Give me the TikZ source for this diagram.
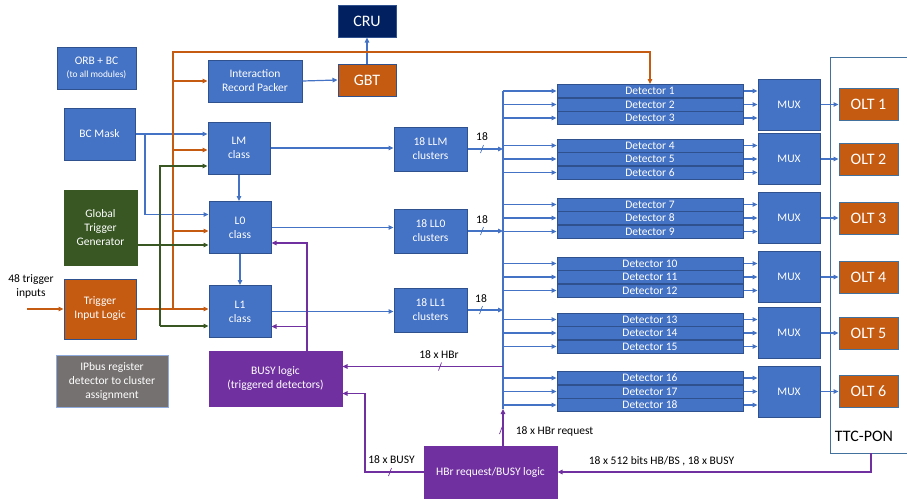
\documentclass[tikz,border=0pt]{standalone}
\usepackage{fontspec}
\setmainfont{Carlito}
\usetikzlibrary{arrows.meta}

\definecolor{boxblue}{HTML}{4472C4}
\definecolor{edgeblue}{HTML}{2F528F}
\definecolor{lightedge}{HTML}{8FAADC}
\definecolor{orng}{HTML}{C55A11}
\definecolor{grn}{HTML}{385723}
\definecolor{purp}{HTML}{7030A0}
\definecolor{gry}{HTML}{767171}
\definecolor{navy}{HTML}{002060}
\definecolor{ttcedge}{HTML}{41719C}

\tikzset{
  slashmark/.pic={\draw[line width=0.7pt] (-1.5,4) -- (1.5,-4);}
}

\begin{document}
\begin{tikzpicture}[x=1pt,y=-1pt,
    txt/.style={font=\fontsize{11.5}{14}\selectfont},
    bigtxt/.style={font=\fontsize{16}{18}\selectfont},
    blk/.style={rectangle, draw=edgeblue, line width=1pt, fill=boxblue, text=white, align=center, inner sep=0pt, txt},
    cls/.style={blk, minimum width=62, minimum height=52},
    clu/.style={blk, minimum width=73, minimum height=44},
    det/.style={blk, minimum width=186, minimum height=13},
    mux/.style={blk, minimum width=62, minimum height=51},
    olt/.style={blk, fill=orng, draw=ttcedge, minimum width=59, minimum height=32, bigtxt},
    lbl/.style={align=center, inner sep=0pt, txt},
    bline/.style={draw=boxblue, line width=1.2pt},
    barr/.style={bline, -{Triangle[length=5pt,width=4.5pt]}},
    oarr/.style={draw=orng, line width=1.2pt, -{Triangle[length=5pt,width=4.5pt]}},
    garr/.style={draw=grn, line width=1.4pt, -{Triangle[length=5pt,width=4.5pt]}},
    parr/.style={draw=purp, line width=1.2pt, -{Triangle[length=5pt,width=4.5pt]}},
  ]
  \useasboundingbox (0,0) rectangle (907,499);

  % Draw boxes
  \node[blk, fill=navy, minimum width=58, minimum height=32, bigtxt] (CRU) at (367,21) {CRU};
  \node[blk, minimum width=79, minimum height=42] (ORB) at (96.5,68) {ORB + BC\\[-1pt]{\fontsize{9.4}{11}\selectfont (to all modules)}};
  \node[blk, minimum width=94, minimum height=42] (IRP) at (255,81) {Interaction\\Record Packer};
  \node[blk, fill=orng, minimum width=58, minimum height=32, bigtxt] (GBT) at (367,80) {GBT};
  \node[blk, minimum width=71, minimum height=52] (BCM) at (99.5,134) {BC Mask};
  \node[cls] (LM) at (239,148) {LM\\class};
  \node[cls] (L0) at (240,227.5) {L0\\class};
  \node[cls] (L1) at (240,311.5) {L1\\class};
  \node[blk, fill=grn, draw=grn, minimum width=73, minimum height=75] (GTG) at (100.5,227.5) {Global\\Trigger\\Generator};
  \node[blk, fill=orng, minimum width=72, minimum height=60] (TIL) at (100,309) {Trigger\\Input Logic};
  \node[blk, fill=gry, draw=lightedge, minimum width=112, minimum height=52] (IPB) at (112,381) {IPbus register\\detector to cluster\\assignment};
  \node[blk, fill=purp, draw=purp, minimum width=133, minimum height=55] (BUSY) at (275.5,378.5) {BUSY logic\\(triggered detectors)};
  \node[blk, fill=purp, draw=purp, minimum width=133, minimum height=52] (HBR) at (490.5,472) {HBr request/BUSY logic};
  \node[clu] (LLM) at (430.5,149) {18 LLM\\clusters};
  \node[clu] (LL0) at (430.5,231) {18 LL0\\clusters};
  \node[clu] (LL1) at (430.5,310) {18 LL1\\clusters};
  \node[lbl] (TIN) at (31,286) {48 trigger\\inputs};

  % TTC-PON frame
  \draw[ttcedge, line width=1pt] (907,57) -| (830,453) -- (907,453);
  \node[lbl, bigtxt] (TTC) at (864,436) {TTC-PON};

  % trunks and free ends
  \coordinate (bus) at (503,0);
  \coordinate (busbot) at (503,409);
  \coordinate (otrunk) at (173,52);
  \coordinate (gtrunk) at (160,0);
  \coordinate (btrunk) at (145,0);
  \coordinate (ptrunk) at (307,0);
  \coordinate (busyx) at (365,0);
  \coordinate (trigin) at (27,309);
  \coordinate (ttcb) at (871,453);
  \coordinate (LMo) at ([yshift=-2pt]LM.west);
  \coordinate (LMg) at ([yshift=-18pt]LM.west);
  \coordinate (L0b) at ([yshift=13pt]L0.west);
  \coordinate (L0o) at ([yshift=-3.5pt]L0.west);
  \coordinate (L0g) at ([yshift=-17.5pt]L0.west);
  \coordinate (L1g) at ([yshift=-14.5pt]L1.west);
  \coordinate (L0p) at ([yshift=-15.5pt]L0.east);
  \coordinate (L1p) at ([yshift=-15pt]L1.east);
  \coordinate (BUSYa) at ([yshift=12pt]BUSY.east);
  \coordinate (BUSYb) at ([yshift=-15pt]BUSY.east);

  % Detectors, MUX and OLT
  \foreach \g/\y in {1/104.5, 2/159, 3/218, 4/277, 5/333, 6/391.5} {
    \node[mux] (MUX\g) at (789,\y) {MUX};
    \node[olt] (OLT\g) at (868.5,\y) {OLT \g};
    \draw[barr] (MUX\g.east) -- (OLT\g.west);
    \foreach \k in {1,2,3} {
      \pgfmathtruncatemacro\dn{3*(\g-1)+\k}
      \node[det] (D\dn) at (650,{\y+13.5*\k-27}) {Detector \dn};
      \draw[barr] (bus |- D\dn.west) -- (D\dn.west);
      \draw[barr] (D\dn.east) -- (D\dn.east -| MUX\g.west);
    }
  }
  \draw[bline, line width=1.6pt] (bus |- D1.west) -- (busbot);

  % Blue edges
  \draw[barr] (IRP.east) -- (GBT.west);
  \draw[barr] (GBT.north) -- (CRU.south);
  \draw[barr] (BCM.east) -- (BCM.east -| LM.west);
  \draw[barr] (BCM.east -| btrunk) |- (L0b);
  \draw[barr] (LM.south) -- (LM.south |- L0.north);
  \draw[barr] (L0.south) -- (L0.south |- L1.north);
  \draw[barr] (LM.east) -- (LM.east -| LLM.west);
  \draw[barr] (L0.east) -- (L0.east -| LL0.west);
  \draw[barr] (L1.east) -- (L1.east -| LL1.west);
  \draw[barr] (LLM.east) -- (LLM.east -| bus);
  \draw[barr] (LL0.east) -- (LL0.east -| bus);
  \draw[barr] (LL1.east) -- (LL1.east -| bus);
  \node[lbl] (n18a) at (482,137) {18};
  \node[lbl] (n18b) at (482,220) {18};
  \node[lbl] (n18c) at (481,299) {18};
  \pic[color=boxblue] at (482,149) {slashmark};
  \pic[color=boxblue] at (482,231) {slashmark};
  \pic[color=boxblue] at (481,310) {slashmark};

  % Orange edges
  \draw[oarr] (trigin) -- (TIL.west);
  \draw[oarr] (TIL.east) -- (TIL.east -| L1.west);
  \draw[oarr] (TIL.east -| otrunk) |- (D1.north |- otrunk) -- (D1.north);
  \draw[oarr] (otrunk |- IRP.west) -- (IRP.west);
  \draw[oarr] (otrunk |- LMo) -- (LMo);
  \draw[oarr] (otrunk |- L0o) -- (L0o);

  % Green edges
  \draw[garr] ([yshift=-17.5pt]GTG.east) -- (L0g);
  \draw[garr] (L1g -| gtrunk) |- (LMg);
  \draw[garr] (L1g -| gtrunk) -- (L1g);

  % Purple edges
  \draw[parr] (BUSY.north -| ptrunk) |- (L0p);
  \draw[parr] (L1p -| ptrunk) -- (L1p);
  \draw[parr] (bus |- BUSYa) -- (BUSYa);
  \draw[parr] (HBR.west) -| (busyx |- BUSYb) -- (BUSYb);
  \draw[parr] (HBR.north -| bus) -- (busbot);
  \draw[parr] (ttcb) |- (HBR.east);
  \node[lbl] (hbr) at (439,355) {18 x HBr};
  \node[lbl] (busyl) at (391.5,460) {18 x BUSY};
  \node[lbl] (hbrq) at (554.5,431) {18 x HBr request};
  \node[lbl] (hbbs) at (661.5,461) {18 x 512 bits HB/BS , 18 x BUSY};
  \pic[color=purp] at (440,366.5) {slashmark};
  \pic[color=purp] at (390,472) {slashmark};
  \pic[color=purp] at (501,430) {slashmark};
\end{tikzpicture}
\end{document}
